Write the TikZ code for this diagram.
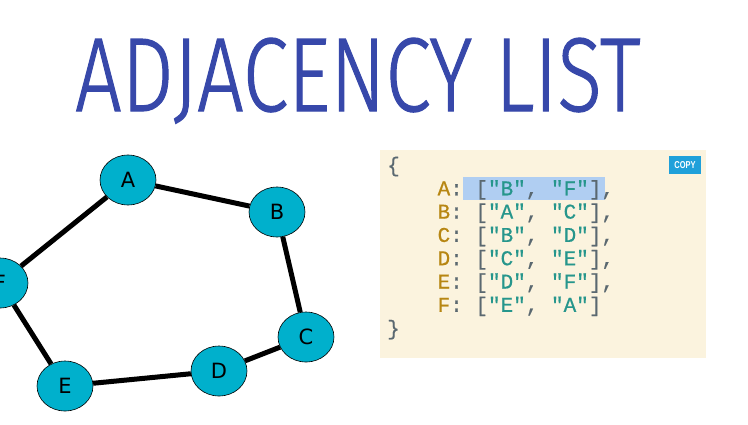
\documentclass[tikz,border=0pt]{standalone}
\usepackage{fontspec}
\usepackage{graphicx}
\newfontfamily\titlefont{Fira Sans}[UprightFont={* Light}, UprightFeatures={FakeBold=1.2}]
\newfontfamily\nodefont{DejaVu Sans}
\newfontfamily\codefont{Liberation Mono}[FakeBold=0.6]
\newfontfamily\btnfont{Liberation Sans}
\definecolor{titleblue}{RGB}{55,72,170}
\definecolor{nodecyan}{RGB}{0,176,204}
\definecolor{panelbg}{RGB}{251,243,222}
\definecolor{keyc}{RGB}{183,134,18}
\definecolor{punc}{RGB}{90,104,112}
\definecolor{strc}{RGB}{38,150,140}
\definecolor{selc}{RGB}{176,206,242}
\definecolor{btnc}{RGB}{31,160,218}
\newcommand{\csp}{\phantom{0}}
\newcommand{\K}[1]{\textcolor{keyc}{#1}}
\newcommand{\Pc}[1]{\textcolor{punc}{#1}}
\newcommand{\St}[1]{\textcolor{strc}{"#1"}}
\newcommand{\entry}[3]{\csp\csp\csp\csp\K{#1}\Pc{:}\csp\Pc{[}\St{#2}\Pc{,}\csp\St{#3}\Pc{]}}
\usetikzlibrary{shapes.geometric}
\tikzset{
  vtx/.style={ellipse, draw=black, line width=0.6pt, fill=nodecyan, minimum width=56pt, minimum height=50pt, inner sep=0pt, font=\nodefont\fontsize{21}{21}\selectfont},
  edge/.style={line width=5pt, black},
  codeline/.style={anchor=base west, inner sep=0pt, font=\codefont\fontsize{21}{21}\selectfont}
}
\begin{document}
\begin{tikzpicture}[x=1pt,y=-1pt]
\useasboundingbox (0,0) rectangle (748,424);
\fill[white] (0,0) rectangle (748,424);
% title
\node[anchor=base west, inner sep=0pt, text=titleblue] (title) at (75,111)
  {\resizebox{565pt}{73pt}{\titlefont ADJACENCY LIST}};
% graph
\node[vtx] (A) at (128,180) {A};
\node[vtx] (B) at (277,212) {B};
\node[vtx] (C) at (306,337) {C};
\node[vtx] (D) at (219,371) {D};
\node[vtx] (E) at (65,386) {E};
\node[vtx] (F) at (0,283) {F};
\draw[edge] (A) -- (B);
\draw[edge] (B) -- (C);
\draw[edge] (C) -- (D);
\draw[edge] (D) -- (E);
\draw[edge] (E) -- (F);
\draw[edge] (F) -- (A);
% code panel
\fill[panelbg] (380,150) rectangle (706,358);
\fill[selc] (463,177) rectangle (605,200);
\node[fill=btnc, minimum width=32pt, minimum height=18pt, inner sep=0pt, text=white, font=\btnfont\bfseries\fontsize{10}{10}\selectfont] (copy) at (685,165) {\scalebox{0.75}[1]{COPY}};
\node[codeline] (l0) at (387,172) {\Pc{\{}};
\node[codeline] (l1) at (387,195.3) {\entry{A}{B}{F}\Pc{,}};
\node[codeline] (l2) at (387,218.6) {\entry{B}{A}{C}\Pc{,}};
\node[codeline] (l3) at (387,241.9) {\entry{C}{B}{D}\Pc{,}};
\node[codeline] (l4) at (387,265.2) {\entry{D}{C}{E}\Pc{,}};
\node[codeline] (l5) at (387,288.5) {\entry{E}{D}{F}\Pc{,}};
\node[codeline] (l6) at (387,311.8) {\entry{F}{E}{A}};
\node[codeline] (l7) at (387,335.1) {\Pc{\}}};
\end{tikzpicture}
\end{document}
